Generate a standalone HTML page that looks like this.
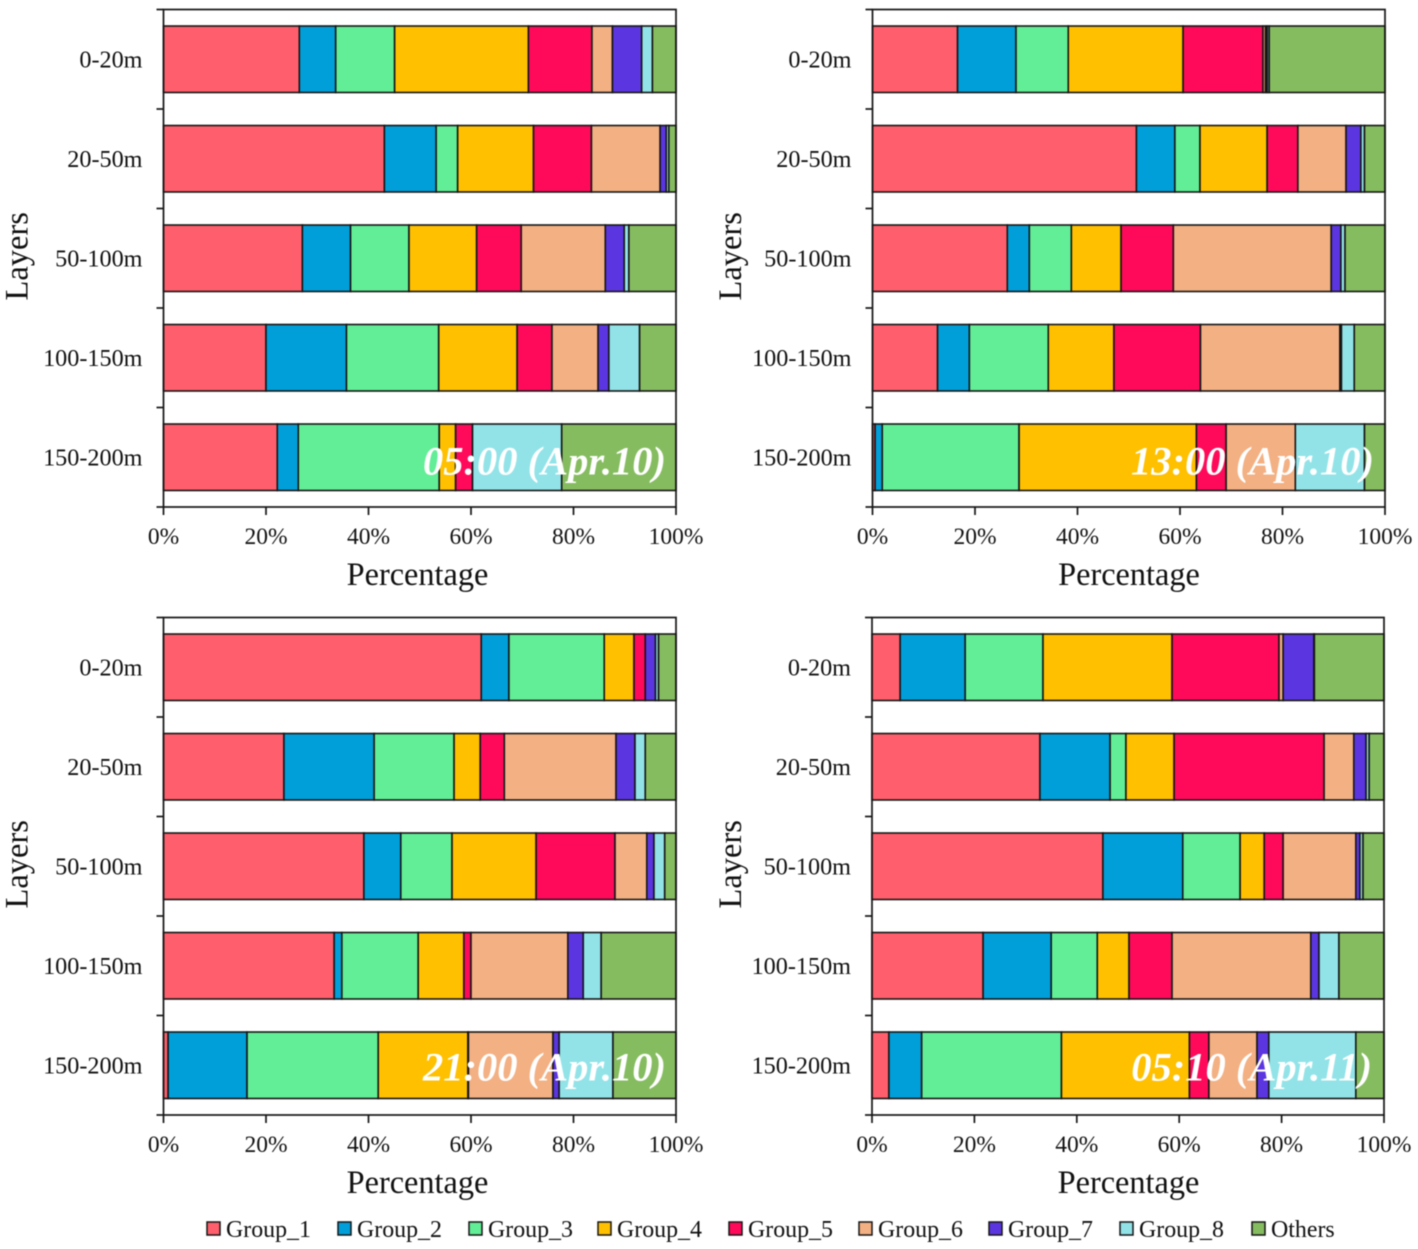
<!DOCTYPE html>
<html lang="en">
<head>
<meta charset="utf-8">
<title>Layer percentage stacked bars</title>
<style>
  html, body { margin: 0; padding: 0; background: #fff; }
  body { width: 1418px; height: 1249px; overflow: hidden; }
  svg { display: block; filter: blur(0.4px); }
  text { font-family: "Liberation Serif", "Times New Roman", serif; fill: #111; }
</style>
</head>
<body>
<svg id="chart" xmlns="http://www.w3.org/2000/svg" width="1418" height="1249" viewBox="0 0 1418 1249"></svg>
<script>
// ---- data (percent per group, one array per layer, one set per time) ----
const layers = ['0-20m', '20-50m', '50-100m', '100-150m', '150-200m'];
const groups = ['Group_1', 'Group_2', 'Group_3', 'Group_4', 'Group_5', 'Group_6', 'Group_7', 'Group_8', 'Others'];
const xTickValues = [0, 20, 40, 60, 80, 100];
const xTickSuffix = '%';

const t0500Layer1 = [26.5, 7.1, 11.5, 26.1, 12.4, 4.0, 5.7, 2.1, 4.6];
const t0500Layer2 = [43.1, 10.1, 4.2, 14.8, 11.3, 13.4, 1.2, 0.5, 1.4];
const t0500Layer3 = [27.1, 9.4, 11.4, 13.2, 8.7, 16.4, 3.7, 0.9, 9.2];
const t0500Layer4 = [20.0, 15.7, 18.0, 15.3, 6.8, 9.0, 2.1, 6.0, 7.1];
const t0500Layer5 = [22.2, 4.1, 27.5, 3.2, 3.3, 0, 0, 17.4, 22.3];

const t1300Layer1 = [16.6, 11.4, 10.2, 22.4, 15.6, 0.5, 0.3, 0.4, 22.6];
const t1300Layer2 = [51.5, 7.5, 4.9, 13.1, 6.0, 9.4, 2.9, 0.7, 4.0];
const t1300Layer3 = [26.3, 4.3, 8.2, 9.7, 10.2, 30.8, 1.9, 0.8, 7.8];
const t1300Layer4 = [12.7, 6.2, 15.4, 12.8, 16.9, 27.2, 0.3, 2.5, 6.0];
const t1300Layer5 = [0.5, 1.4, 26.7, 34.6, 5.8, 13.5, 0, 13.5, 4.0];

const t2100Layer1 = [62.0, 5.4, 18.6, 5.8, 2.2, 0, 2.0, 0.6, 3.4];
const t2100Layer2 = [23.5, 17.6, 15.6, 5.1, 4.7, 21.8, 3.7, 2.0, 6.0];
const t2100Layer3 = [39.1, 7.2, 10.0, 16.4, 15.4, 6.2, 1.4, 2.1, 2.2];
const t2100Layer4 = [33.3, 1.5, 14.9, 8.9, 1.4, 18.9, 3.0, 3.5, 14.6];
const t2100Layer5 = [0.9, 15.4, 25.6, 17.5, 0.1, 16.5, 1.2, 10.5, 12.3];

const t0510Layer1 = [5.5, 12.7, 15.2, 25.2, 20.9, 0.8, 6.0, 0.1, 13.6];
const t0510Layer2 = [32.8, 13.7, 3.1, 9.4, 29.3, 5.8, 2.4, 0.6, 2.9];
const t0510Layer3 = [45.1, 15.6, 11.2, 4.7, 3.7, 14.2, 0.8, 0.6, 4.1];
const t0510Layer4 = [21.7, 13.3, 9.0, 6.2, 8.4, 27.1, 1.6, 3.9, 8.8];
const t0510Layer5 = [3.3, 6.4, 27.3, 25.0, 3.8, 9.4, 2.3, 17.0, 5.5];

const panelLabels = ['05:00 (Apr.10)', '13:00 (Apr.10)', '21:00 (Apr.10)', '05:10 (Apr.11)'];
const panelSeries = [
  [t0500Layer1, t0500Layer2, t0500Layer3, t0500Layer4, t0500Layer5],
  [t1300Layer1, t1300Layer2, t1300Layer3, t1300Layer4, t1300Layer5],
  [t2100Layer1, t2100Layer2, t2100Layer3, t2100Layer4, t2100Layer5],
  [t0510Layer1, t0510Layer2, t0510Layer3, t0510Layer4, t0510Layer5]
];

// ---- styling & layout ----
const groupColors = ['#ff5f6c', '#009fd9', '#62ee96', '#ffc000', '#ff0a5a', '#f3b083', '#5b36e0', '#92e3e8', '#86bc60'];
const lineColor = '#161616';
const panelBoxes = [
  { left: 163.5, right: 676, top: 9.5, bottom: 507, labelEnd: 666, labelDy: 17, titleX: 417.5, layersX: 27.5 },
  { left: 872.5, right: 1385, top: 9.5, bottom: 507, labelEnd: 1374, labelDy: 17, titleX: 1129, layersX: 741 },
  { left: 163.5, right: 676, top: 617.5, bottom: 1115, labelEnd: 666, labelDy: 15, titleX: 417.5, layersX: 27.5 },
  { left: 872, right: 1384, top: 617.5, bottom: 1115, labelEnd: 1372, labelDy: 15, titleX: 1128.5, layersX: 741 }
];
const legendStarts = [207, 338, 469, 598, 729, 859, 989, 1120, 1252];

const svg = document.getElementById('chart');
const NS = 'http://www.w3.org/2000/svg';

function make(tag, attrs, parent, content) {
  const el = document.createElementNS(NS, tag);
  for (const k in attrs) el.setAttribute(k, attrs[k]);
  if (content !== undefined) el.textContent = content;
  parent.appendChild(el);
  return el;
}

function xScale(box, v) {
  return box.left + (v / 100) * (box.right - box.left);
}
function bandTop(box, i) {
  return box.top + (i / layers.length) * (box.bottom - box.top);
}
function bandCenter(box, i) {
  return bandTop(box, i + 0.5);
}
function barHeight(box) {
  return ((box.bottom - box.top) / layers.length) * 0.668;
}

panelBoxes.forEach(function (box, p) {
  const panel = make('g', {}, svg);
  
  

  // stacked bars
  panelSeries[p].forEach(function (values, r) {
    let cum = 0;
    const h = barHeight(box);
    const y = bandCenter(box, r) - h / 2;
    values.forEach(function (v, g) {
      const x0 = xScale(box, cum);
      const x1 = xScale(box, cum + v);
      cum += v;
      if (v <= 0) return;
      const bar = make('rect', {
        x: x0, y: y, width: x1 - x0, height: h,
        fill: groupColors[g], stroke: lineColor, 'stroke-width': 1.6
      }, panel);
      
      
    });
  });

  // plot frame
  const frame = make('rect', {
    x: box.left, y: box.top, width: box.right - box.left, height: box.bottom - box.top,
    fill: 'none', stroke: lineColor, 'stroke-width': 1.7
  }, panel);
  
  

  // y ticks
  for (let i = 0; i <= layers.length; i++) {
    const yt = make('line', {
      x1: box.left - 7, x2: box.left, y1: bandTop(box, i), y2: bandTop(box, i),
      stroke: lineColor, 'stroke-width': 1.7
    }, panel);
    
    
  }
  // y labels
  layers.forEach(function (name, i) {
    const yl = make('text', {
      x: box.left - 21, y: bandCenter(box, i) + 8, 'text-anchor': 'end', 'font-size': 24.2
    }, panel, name);
    
    
  });

  // x ticks + labels
  xTickValues.forEach(function (v) {
    const tx = xScale(box, v);
    const xt = make('line', {
      x1: tx, x2: tx, y1: box.bottom, y2: box.bottom + 8,
      stroke: lineColor, 'stroke-width': 1.7
    }, panel);
    
    
    const xl = make('text', {
      x: tx, y: box.bottom + 37, 'text-anchor': 'middle', 'font-size': 23.5
    }, panel, v + xTickSuffix);
    
    
  });

  // axis titles
  const xTitle = make('text', {
    x: box.titleX, y: box.bottom + 78, 'text-anchor': 'middle', 'font-size': 32.3
  }, panel, 'Percentage');
  
  

  const yx = box.layersX;
  const yy = (box.top + box.bottom) / 2 - 2;
  const yTitle = make('text', {
    x: yx, y: yy, 'text-anchor': 'middle', 'font-size': 32.5,
    transform: 'rotate(-90 ' + yx + ' ' + yy + ')'
  }, panel, 'Layers');
  
  

  // time annotation
  const note = make('text', {
    x: box.labelEnd, y: bandCenter(box, 4) + box.labelDy, 'text-anchor': 'end',
    'font-size': 40.5, 'font-weight': 'bold', 'font-style': 'italic', style: 'fill:#fff'
  }, panel, panelLabels[p]);
  
  
});

// legend
const legend = make('g', {}, svg);


groups.forEach(function (name, i) {
  const entry = make('g', {}, legend);
  
  
  const swatch = make('rect', {
    x: legendStarts[i], y: 1222, width: 13, height: 13,
    fill: groupColors[i], stroke: lineColor, 'stroke-width': 1.5
  }, entry);
  
  
  const label = make('text', {
    x: legendStarts[i] + 19, y: 1237, 'font-size': 23.9
  }, entry, name);
  
  
});
</script>
</body>
</html>
